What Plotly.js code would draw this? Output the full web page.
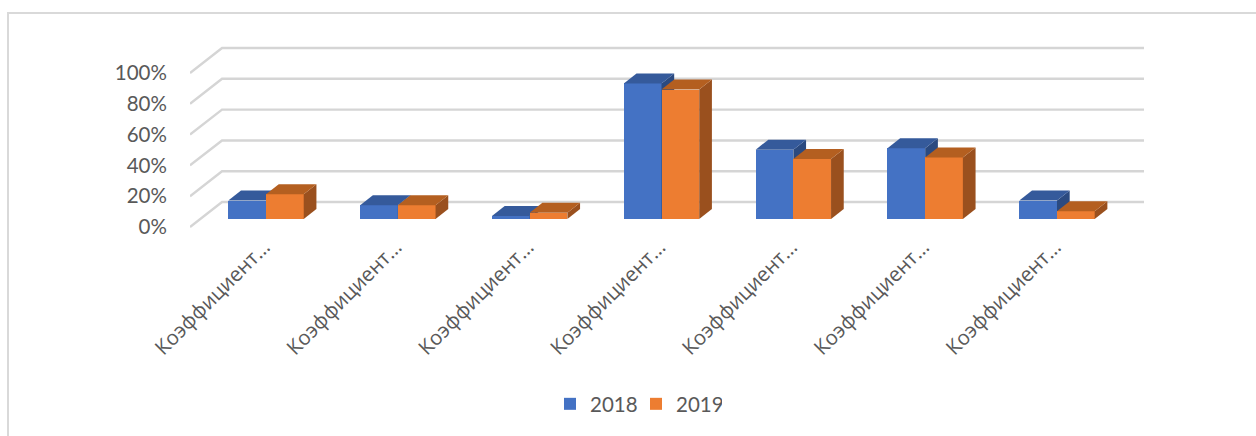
<!DOCTYPE html>
<html>
<head>
<meta charset="utf-8">
<script src="https://cdn.plot.ly/plotly-3.0.1.min.js"></script>
<style>html,body{margin:0;padding:0;background:#fff}#chart{width:1256px;height:436px}</style>
</head>
<body>
<div id="chart"></div>
<script>
const categories = ["Коэффициент…","Коэффициент…","Коэффициент…","Коэффициент…","Коэффициент…","Коэффициент…","Коэффициент…"];
const seriesNames = ["2018","2019"];
const values2018 = [12, 9, 2, 88, 45, 46, 12];
const values2019 = [16, 9, 4, 84, 39, 40, 5];
const yTicks = [0, 20, 40, 60, 80, 100];
const yTickText = ["0%","20%","40%","60%","80%","100%"];

const frontColors = ["#4472C4","#ED7D31"];
const topColors = ["#355A9B","#B45F20"];
const sideColors = ["#2B4A80","#9A501E"];

// 3-D look, in axis units
const barWidth = 0.286, barDepthX = 0.0964, barDepthY = 6.5, floorY = 5.19;
const wallDepthX = 0.243, wallDepthY = 16.2;
const xRange = [-0.5766, 6.66], yRange = [-1.95, 121.4];

const traces = [];
// gridlines on the walls
yTicks.forEach(v => traces.push({
  type:'scatter', mode:'lines', xaxis:'x', yaxis:'y', showlegend:false, hoverinfo:'skip',
  x:[xRange[0], xRange[0]+wallDepthX, xRange[1]],
  y:[v, v+wallDepthY, v+wallDepthY],
  line:{color:'#d5d5d5', width:2.4}, cliponaxis:false
}));

function addSeries(vals, s, ax){
  const off = s === 0 ? -barWidth/2 : barWidth/2;
  const xs = vals.map((_,i)=>i+off);
  traces.push({
    type:'bar', name:seriesNames[s], x:xs, y:vals, base:vals.map(()=>floorY), width:barWidth,
    marker:{color:frontColors[s], line:{width:0}},
    xaxis:'x'+ax, yaxis:'y'+ax, showlegend:true, hoverinfo:'y'
  });
  vals.forEach((v,i)=>{
    const l = xs[i]-barWidth/2, r = xs[i]+barWidth/2, b = floorY, t = floorY+v;
    traces.push({type:'scatter', mode:'lines', fill:'toself', fillcolor:sideColors[s], line:{width:0},
      x:[r, r+barDepthX, r+barDepthX, r, r], y:[b, b+barDepthY, t+barDepthY, t, b],
      xaxis:'x'+ax, yaxis:'y'+ax, showlegend:false, hoverinfo:'skip'});
    traces.push({type:'scatter', mode:'lines', fill:'toself', fillcolor:topColors[s], line:{width:0},
      x:[l, l+barDepthX, r+barDepthX, r, l], y:[t, t+barDepthY, t+barDepthY, t, t],
      xaxis:'x'+ax, yaxis:'y'+ax, showlegend:false, hoverinfo:'skip'});
  });
}
addSeries(values2018, 0, 2);
addSeries(values2019, 1, 3);

const W = 954, H = 190, L = 190, T = 40;
const px = p => (p-L)/W, py = p => (T+H-p)/H;
const hidden = (o) => Object.assign({visible:false, showgrid:false, zeroline:false}, o);
const layout = {
  width:1256, height:436, paper_bgcolor:'#fff', plot_bgcolor:'rgba(0,0,0,0)',
  margin:{l:L, r:1256-L-W, t:T, b:436-T-H, pad:0},
  barmode:'overlay', bargap:0,
  font:{family:'Lato, "Open Sans", sans-serif', color:'#595959', size:20},
  xaxis:{range:xRange, tickmode:'array', tickvals:categories.map((_,i)=>i), ticktext:categories,
    tickangle:-45, showgrid:false, zeroline:false, showline:false, ticks:'', ticklabelshift:-2,
    tickfont:{family:'"Open Sans", sans-serif', size:20.4, color:'#595959'}},
  yaxis:{range:yRange, tickmode:'array', tickvals:yTicks, ticktext:yTickText,
    showgrid:false, zeroline:false, showline:false, ticks:'outside', ticklen:18, tickcolor:'rgba(0,0,0,0)',
    tickfont:{size:20.5, color:'#595959'}},
  xaxis2:hidden({range:xRange, overlaying:'x', anchor:'y2'}),
  yaxis2:hidden({range:yRange, overlaying:'y', anchor:'x2'}),
  xaxis3:hidden({range:xRange, overlaying:'x', anchor:'y3'}),
  yaxis3:hidden({range:yRange, overlaying:'y', anchor:'x3'}),
  legend:{orientation:'h', x:px(550), xanchor:'left', y:py(404), yanchor:'middle', entrywidth:41, entrywidthmode:'pixels',
    font:{size:20.5, color:'#595959'}, bgcolor:'rgba(0,0,0,0)', traceorder:'normal'},
  shapes:[
    {type:'line', xref:'paper', yref:'paper', x0:px(8), x1:px(8), y0:py(13), y1:py(436), line:{color:'#d9d9d9', width:2}},
    {type:'line', xref:'paper', yref:'paper', x0:px(7), x1:px(1256), y0:py(13), y1:py(13), line:{color:'#d9d9d9', width:2}}
  ],
  showlegend:true
};
Plotly.newPlot('chart', traces, layout, {displayModeBar:false, responsive:false});
</script>
</body>
</html>
